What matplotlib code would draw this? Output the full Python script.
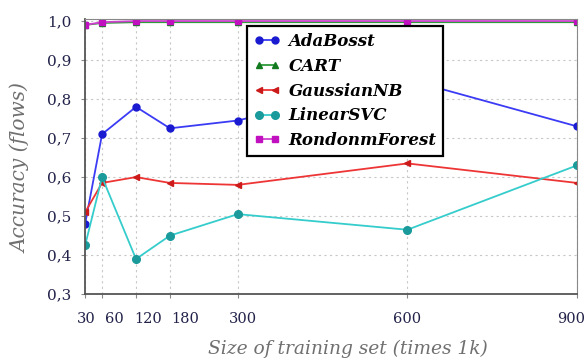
import matplotlib.pyplot as plt
import matplotlib.transforms as mtransforms
from matplotlib.ticker import FuncFormatter

# training set sizes (times 1k)
sizes = [30, 60, 120, 180, 300, 600, 900]
x_labels = ["30", "60", "120", "180", "300", "600", "900"]
# small shifts of the x tick labels (points), the original spreads the crowded ones
label_shift = [1, 9, 9, 11, 4, 0, -4]

# accuracy per classifier
adaboost = [0.48, 0.71, 0.78, 0.725, 0.745, 0.85, 0.73]
cart = [0.99, 0.995, 0.997, 0.997, 0.997, 0.997, 0.997]
gaussian_nb = [0.51, 0.585, 0.60, 0.585, 0.58, 0.635, 0.585]
linear_svc = [0.425, 0.60, 0.39, 0.45, 0.505, 0.465, 0.63]
random_forest = [0.99, 0.997, 1.0, 1.0, 1.0, 1.0, 1.0]

y_ticks = [0.3, 0.4, 0.5, 0.6, 0.7, 0.8, 0.9, 1.0]

fig = plt.figure(figsize=(5.87, 3.6), dpi=100)
ax = fig.add_axes([0.145, 0.183, 0.838, 0.764])

ax.plot(sizes, adaboost, label="AdaBosst", color="#3b3bf5", marker="o", markersize=5,
        markerfacecolor="#1a1ad0", markeredgecolor="#1a1ad0", linewidth=1.3)
ax.plot(sizes, cart, label="CART", color="#2e9a3a", marker="^", markersize=5,
        markerfacecolor="#137a20", markeredgecolor="#137a20", linewidth=1.3)
ax.plot(sizes, gaussian_nb, label="GaussianNB", color="#ee3535", marker="<", markersize=5,
        markerfacecolor="#cc1a1a", markeredgecolor="#cc1a1a", linewidth=1.3)
ax.plot(sizes, linear_svc, label="LinearSVC", color="#35cccc", marker="o", markersize=5.5,
        markerfacecolor="#1a9a9a", markeredgecolor="#1a9a9a", linewidth=1.3)
ax.plot(sizes, random_forest, label="RondonmForest", color="#d040d0", marker="s", markersize=5,
        markerfacecolor="#c010c0", markeredgecolor="#c010c0", linewidth=1.3)

ax.set_xlim(30, 900)
ax.set_ylim(0.3, 1.005)
ax.set_xticks(sizes)
ax.set_xticklabels([])
ax.set_yticks(y_ticks)
ax.yaxis.set_major_formatter(FuncFormatter(lambda v, p: "{:.1f}".format(v).replace(".", ",")))

for lab in ax.get_yticklabels():
    lab.set_fontfamily("DejaVu Serif")
    lab.set_fontsize(11)
    lab.set_color("#22224a")

# x tick labels drawn as text under each tick, nudged like the original
base = ax.get_xaxis_transform()
for xv, txt, dx in zip(sizes, x_labels, label_shift):
    tr = base + mtransforms.ScaledTranslation(dx / 72, -13 / 72, fig.dpi_scale_trans)
    ax.text(xv, 0, txt, transform=tr, ha="center", va="top", family="DejaVu Serif",
            fontsize=10.5, color="#22224a", clip_on=False)

ax.tick_params(axis="x", length=3, color="#888888")
ax.tick_params(axis="y", pad=7, length=3, color="#888888")

ax.grid(True, linestyle=(0, (2, 3)), color="#c8c8c8", linewidth=0.8)
for side in ["left", "bottom"]:
    ax.spines[side].set_color("#555555")
    ax.spines[side].set_linewidth(1.3)
for side in ["top", "right"]:
    ax.spines[side].set_color("#888888")
    ax.spines[side].set_linewidth(0.8)

ax.set_xlabel("Size of training set (times 1k)", family="DejaVu Serif", style="italic",
              fontsize=13.4, color="#707070")
ax.xaxis.set_label_coords(0.535, -0.165)
ax.set_ylabel("Accuracy (flows)", family="DejaVu Serif", style="italic",
              fontsize=14.5, color="#707070")
ax.yaxis.set_label_coords(-0.11, 0.46)

leg = ax.legend(loc="upper left", bbox_to_anchor=(0.329, 0.974), fancybox=False,
                framealpha=1, edgecolor="black", borderpad=0.4, labelspacing=0.47,
                handlelength=1.6, handletextpad=0.5, borderaxespad=0, numpoints=2,
                prop={"family": "DejaVu Serif", "style": "italic", "weight": "bold", "size": 12})
leg.get_frame().set_linewidth(1.6)

plt.savefig("out.png", dpi=100)
